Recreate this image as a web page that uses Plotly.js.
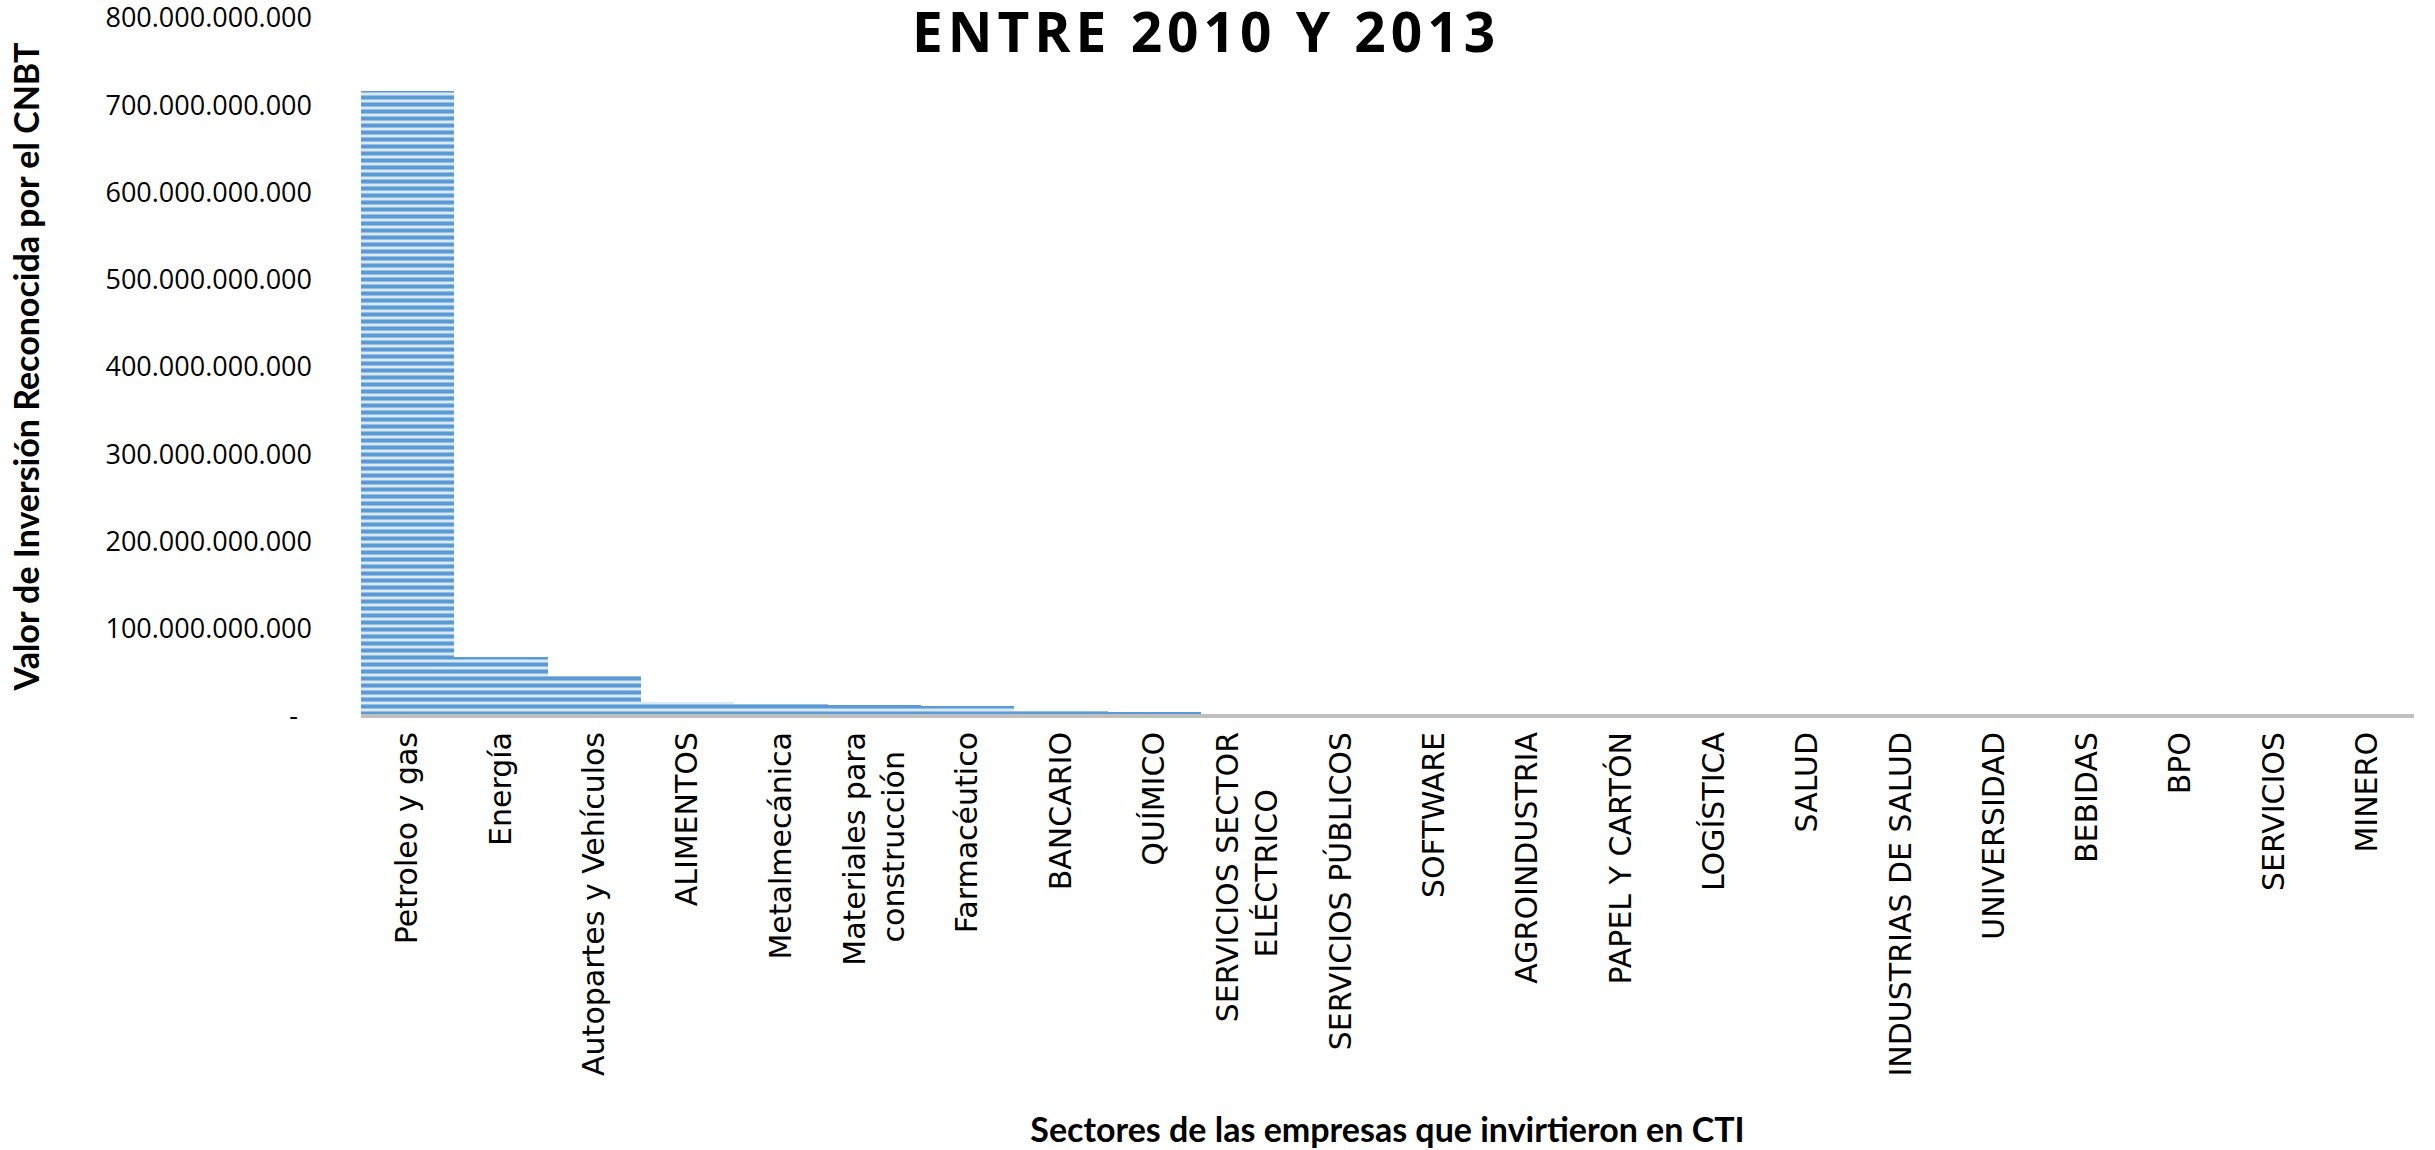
<!DOCTYPE html>
<html>
<head>
<meta charset="utf-8">
<script src="https://cdn.plot.ly/plotly-3.0.1.min.js"></script>
<style>
  html, body { margin: 0; padding: 0; background: #ffffff; }
  #chart { width: 2435px; height: 1150px; }
  .gtitle { letter-spacing: 5px; }
</style>
</head>
<body>
<div id="chart"></div>
<script>
const NB = "\u00a0";
const categories = [
  "Petroleo y gas",
  "Energía",
  "Autopartes y Vehículos",
  "ALIMENTOS",
  "Metalmecánica",
  "Materiales para<br>construcción" + NB.repeat(2),
  "Farmacéutico",
  "BANCARIO",
  "QUÍMICO",
  "SERVICIOS SECTOR<br>ELÉCTRICO" + NB.repeat(6),
  "SERVICIOS PÚBLICOS",
  "SOFTWARE",
  "AGROINDUSTRIA",
  "PAPEL Y CARTÓN",
  "LOGÍSTICA",
  "SALUD",
  "INDUSTRIAS DE SALUD",
  "UNIVERSIDAD",
  "BEBIDAS",
  "BPO",
  "SERVICIOS",
  "MINERO"
];

const investmentValues = [
  716.5e9, 67.4e9, 45.3e9, 16.4e9, 13.2e9, 12.6e9, 11.2e9, 6.0e9, 4.8e9,
  1.5e9, 1.2e9, 1.0e9, 0.8e9, 0.7e9, 0.6e9, 0.5e9, 0.4e9, 0.3e9, 0.25e9,
  0.2e9, 0.15e9, 0.1e9
];

const yTickVals = [0, 100e9, 200e9, 300e9, 400e9, 500e9, 600e9, 700e9, 800e9];
const yTickText = [
  "-" + NB + NB,
  "100.000.000.000",
  "200.000.000.000",
  "300.000.000.000",
  "400.000.000.000",
  "500.000.000.000",
  "600.000.000.000",
  "700.000.000.000",
  "800.000.000.000"
];

const titleText = "ENTRE 2010 Y 2013";
const xTitleText = "Sectores de las empresas que invirtieron en CTI";
const yTitleText = "Valor de Inversión Reconocida por el CNBT";

const trace = {
  type: "bar",
  x: categories,
  y: investmentValues,
  marker: {
    color: "#dbe8f5",
    line: { width: 0 },
    pattern: {
      shape: "-",
      fillmode: "replace",
      bgcolor: "#dbe8f5",
      fgcolor: "#5b9bd5",
      size: 7,
      solidity: 0.58
    }
  },
  hoverinfo: "x+y"
};

const layout = {
  width: 2435,
  height: 1150,
  paper_bgcolor: "#ffffff",
  plot_bgcolor: "#ffffff",
  margin: { l: 361, r: 21, t: 17, b: 434, pad: 0 },
  bargap: 0,
  showlegend: false,
  title: {
    text: titleText,
    font: { family: "Open Sans, sans-serif", size: 55, color: "#000000", weight: 700 },
    xref: "container",
    yref: "container",
    x: 1206 / 2435,
    xanchor: "center",
    y: 1 - 33 / 1150,
    yanchor: "middle"
  },
  xaxis: {
    type: "category",
    tickangle: -90,
    ticks: "",
    showgrid: false,
    zeroline: false,
    showline: false,
    ticklabelstandoff: 9,
    tickfont: { family: "DejaVu Sans, sans-serif", size: 30, color: "#000000" },
    automargin: false,
    title: {
      text: xTitleText,
      font: { family: "Lato, sans-serif", size: 34, color: "#000000", weight: 700 },
      standoff: 42
    }
  },
  yaxis: {
    range: [0, 801e9],
    tickmode: "array",
    tickvals: yTickVals,
    ticktext: yTickText,
    ticks: "",
    showgrid: false,
    zeroline: true,
    zerolinecolor: "#bfbfbf",
    zerolinewidth: 4.5,
    zerolinelayer: "above traces",
    showline: false,
    ticklabelstandoff: 48,
    ticklabeloverflow: "allow",
    tickfont: { family: "Open Sans, sans-serif", size: 27, color: "#000000" },
    automargin: false,
    title: {
      text: yTitleText,
      font: { family: "Lato, sans-serif", size: 34, color: "#000000", weight: 700 },
      standoff: 55
    }
  }
};

Plotly.newPlot("chart", [trace], layout, { displayModeBar: false, staticPlot: true });
</script>
</body>
</html>
